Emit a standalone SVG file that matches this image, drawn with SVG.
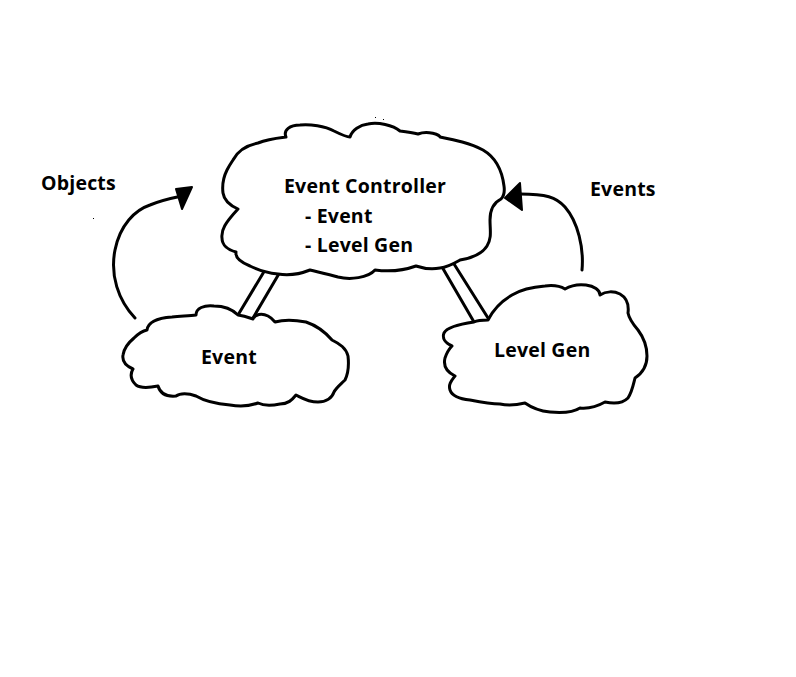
<svg xmlns="http://www.w3.org/2000/svg" width="796" height="677" viewBox="0 0 796 677">
<style>
.c{fill:#fff;stroke:#000;stroke-width:3;stroke-linejoin:round;stroke-linecap:round}
.l{fill:none;stroke:#000;stroke-width:3;stroke-linecap:round}
.t{font-family:"Open Sans","Noto Sans",sans-serif;font-weight:bold;font-size:19.5px;letter-spacing:0.2px;fill:#000}
</style>
<rect width="796" height="677" fill="#fff"/>
<g id="connectors">
<path class="l" d="M265,270 L238,315"/>
<path class="l" d="M280,272 L253,318"/>
<path class="l" d="M438,260 L474,322"/>
<path class="l" d="M449,256 L488,318"/>
<path class="l" d="M135,318 C118,300 110,275 115,250 C120,225 135,210 150,205 C162,200 172,198 182,196"/>
<polygon points="176,189 192,187 182,209" fill="#000" stroke="#000" stroke-width="2" stroke-linejoin="round"/>
<path class="l" d="M582,270 C584,248 578,222 565,207 C556,197 546,194 520,194"/>
<polygon points="505,198 520,183 522,210" fill="#000" stroke="#000" stroke-width="2" stroke-linejoin="round"/>
</g>
<g id="event-controller">
<path class="c" d="M233,160 C238,150 248,145 258,143 C268,139 278,138 286,137 C283,130 290,125 300,125 C310,124 325,126 334,131 C340,134 346,137 350,137 C352,130 360,125 368,124 C378,122 393,125 400,131 C408,132 414,133 418,134 C428,130 440,135 440,137 C455,140 470,143 483,150 C495,157 502,170 504,186 C505,193 503,197 501,199 C493,203 490,210 490,220 C490,230 492,238 487,246 C482,254 472,258 460,260 C453,264 448,267 440,268 C430,270 422,268 416,266 C405,270 390,272 375,270 C368,278 350,280 338,277 C328,274 318,272 310,270 C300,274 290,276 278,274 C268,273 258,270 250,266 C240,262 235,258 236,252 C228,250 222,245 222,238 C221,230 225,223 238,209 C229,205 224,200 223,193 C222,185 224,176 227,170 C229,166 231,163 233,160 Z"/>
<text class="t" x="284" y="193">Event Controller</text>
<text class="t" x="305" y="223">- Event</text>
<text class="t" x="305" y="252">- Level Gen</text>
</g>
<g id="event">
<path class="c" d="M147,330 C148,322 158,318 172,317 C182,316 190,316 196,315 C196,308 204,305 214,306 C224,306 232,309 238,315 C245,316 250,318 253,319 C255,314 262,313 268,316 C272,318 274,321 275,322 C285,319 296,320 306,322 C318,326 326,333 332,340 C340,344 346,348 348,356 C349,365 348,374 345,380 C340,385 336,388 334,392 C332,398 326,402 318,402 C308,402 302,398 296,395 C292,400 288,404 280,404 C270,406 262,405 258,403 C250,406 240,407 230,405 C218,404 206,402 196,396 C188,393 180,393 176,396 C165,397 160,393 158,386 C148,388 140,388 136,385 C131,380 130,374 133,369 C126,366 122,361 123,355 C124,348 128,343 134,338 C138,334 142,331 147,330 Z"/>
<text class="t" x="201" y="364">Event</text>
</g>
<g id="level-gen">
<path class="c" d="M474,322 C478,320 484,320 488,320 C492,312 500,302 512,295 C522,289 532,287 545,286 C553,285 560,286 565,289 C570,286 578,284 586,285 C594,286 600,290 600,295 C606,291 614,291 620,294 C627,298 629,305 628,313 C629,318 632,323 638,330 C644,338 647,347 647,356 C647,365 644,372 635,378 C633,386 632,392 628,398 C622,404 614,404 605,402 C598,406 590,409 580,408 C574,412 562,413 550,412 C540,411 532,408 525,403 C517,405 508,406 500,404 C490,404 480,402 470,400 C460,399 452,396 450,390 C448,384 452,380 455,376 C447,372 443,366 445,358 C447,352 450,348 452,346 C445,343 442,338 444,333 C447,327 460,324 474,322 Z"/>
<text class="t" x="494" y="357">Level Gen</text>
</g>
<text class="t" x="41" y="190">Objects</text>
<text class="t" x="590" y="196">Events</text>
<rect x="375" y="117" width="1" height="1" fill="#000"/>
<rect x="383" y="119" width="1" height="1" fill="#000"/>
<rect x="93" y="218" width="1" height="1" fill="#000"/>
</svg>
